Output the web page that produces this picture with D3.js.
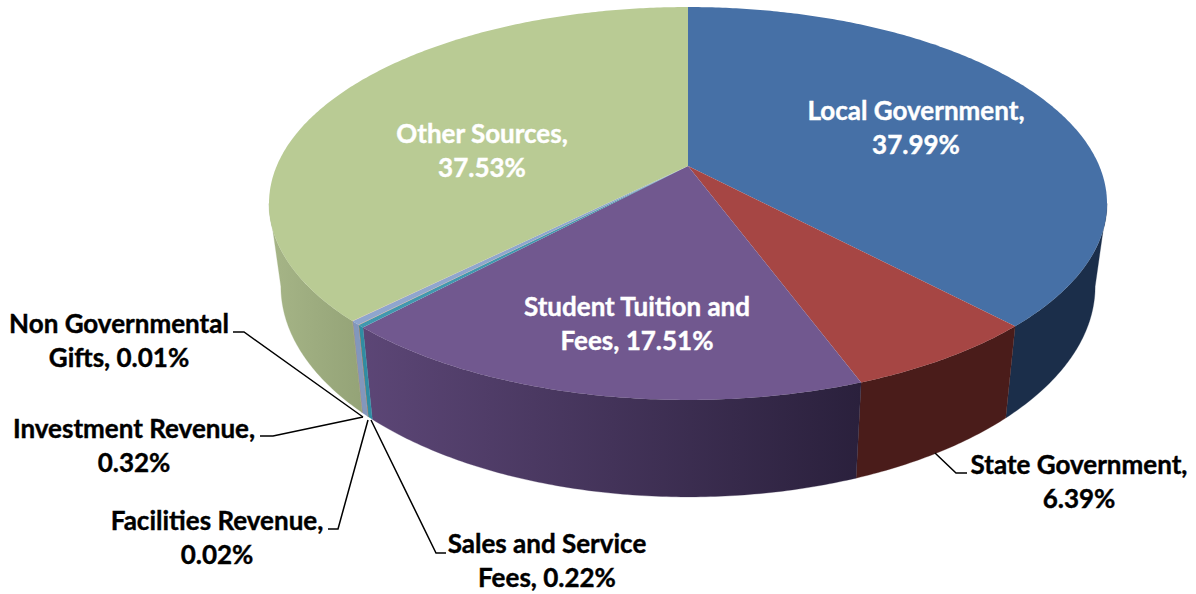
<!DOCTYPE html>
<html>
<head>
<meta charset="utf-8">
<script src="https://cdnjs.cloudflare.com/ajax/libs/d3/7.8.5/d3.min.js"></script>
<style>
html,body{margin:0;padding:0;background:#fff;overflow:hidden}
text{font-family:Lato,"Open Sans",sans-serif;font-weight:700;text-anchor:middle}
</style>
</head>
<body>
<svg id="c" width="1196" height="594"></svg>
<script>
const categories = ["Local Government","State Government","Student Tuition and Fees","Sales and Service Fees","Facilities Revenue","Investment Revenue","Non Governmental Gifts","Other Sources"];
const values = [37.99,6.39,17.51,0.22,0.02,0.32,0.01,37.53];
const topColors = ["#4670A6","#A64644","#71588F","#4198AF","#DB843D","#8FA6CE","#D19392","#B9CB94"];
const wallLeft  = ["#1B2E4A","#4A1C1A","#5C4676","#2F8DA3","#B06A30","#8297BC","#A87675","#A6B587"];
const wallRight = ["#1B2E4A","#4A1C1A","#2A203C","#2F8DA3","#B06A30","#8297BC","#A87675","#94A377"];
const labelLines = [["Local Government,","37.99%"],["State Government,","6.39%"],["Student Tuition and","Fees, 17.51%"],["Sales and Service","Fees, 0.22%"],["Facilities Revenue,","0.02%"],["Investment Revenue,","0.32%"],["Non Governmental","Gifts, 0.01%"],["Other Sources,","37.53%"]];
const labelPos = [[916,120],[1079,474],[637,316],[547,553],[217,530],[134,438],[119,333],[482,143]];
const labelFill = ["#fff","#000","#fff","#000","#000","#000","#000","#fff"];
const leaders = [null,[[935,453],[956,473],[967,473]],null,[[371,420],[436,553],[446,553]],[[368,420],[338,529],[328,529]],[[363,417],[273,436],[260,436]],[[363,417],[244,332],[233,332]],null];

const FONT = 26;
const svg = d3.select("#c");
const defs = svg.append("defs");
const TOP = {cx:688, cy:166, a:411.3, b:189.3, k:0.1908};
const BOT = {cx:688, cy:246.3, a:399.7, b:203, k:0.19};
const project = (p, t) => {
  const u = Math.sin(t), v = Math.cos(t), w = 1 + p.k * v;
  return [p.cx + p.a * u / w, p.cy - p.b * v / w];
};
const pie = d3.pie().sort(null).value(d => d)(values);
const line = d3.line();
const samples = (p, a0, a1) => {
  const n = Math.max(2, Math.ceil((a1 - a0) / 0.01));
  return d3.range(n + 1).map(i => project(p, a0 + (a1 - a0) * i / n));
};
const T0 = Math.PI - Math.acos(TOP.k), T1 = Math.PI + Math.acos(TOP.k);

// side walls
const walls = svg.append("g");
pie.forEach((s, i) => {
  const a0 = Math.max(s.startAngle, T0), a1 = Math.min(s.endAngle, T1);
  if (a1 <= a0) return;
  const top = samples(TOP, a0, a1), bot = samples(BOT, a0, a1).reverse();
  const xs = top.concat(bot).map(d => d[0]);
  const g = defs.append("linearGradient").attr("id", "w" + i).attr("gradientUnits", "userSpaceOnUse")
    .attr("x1", d3.min(xs)).attr("x2", d3.max(xs)).attr("y1", 0).attr("y2", 0);
  g.append("stop").attr("offset", 0).attr("stop-color", wallLeft[i]);
  g.append("stop").attr("offset", 1).attr("stop-color", wallRight[i]);
  walls.append("path").attr("d", line(top.concat(bot)) + "Z").attr("fill", `url(#w${i})`)
    .attr("stroke", `url(#w${i})`).attr("stroke-width", 0.3);
});

// top faces
const tops = svg.append("g");
pie.forEach((s, i) => {
  const pts = [[TOP.cx, TOP.cy]].concat(samples(TOP, s.startAngle, s.endAngle));
  tops.append("path").attr("d", line(pts) + "Z").attr("fill", topColors[i]);
});

// leader lines
const lg = svg.append("g").attr("fill", "none").attr("stroke", "#000").attr("stroke-width", 1.5);
leaders.forEach(l => { if (l) lg.append("path").attr("d", line(l)); });

// labels
labelLines.forEach((ls, i) => {
  ls.forEach((t, j) => {
    svg.append("text").attr("x", labelPos[i][0]).attr("y", labelPos[i][1] + j * 34)
      .attr("font-size", FONT).attr("fill", labelFill[i])
      .attr("stroke", labelFill[i]).attr("stroke-width", 0.4).text(t);
  });
});
</script>
</body>
</html>
